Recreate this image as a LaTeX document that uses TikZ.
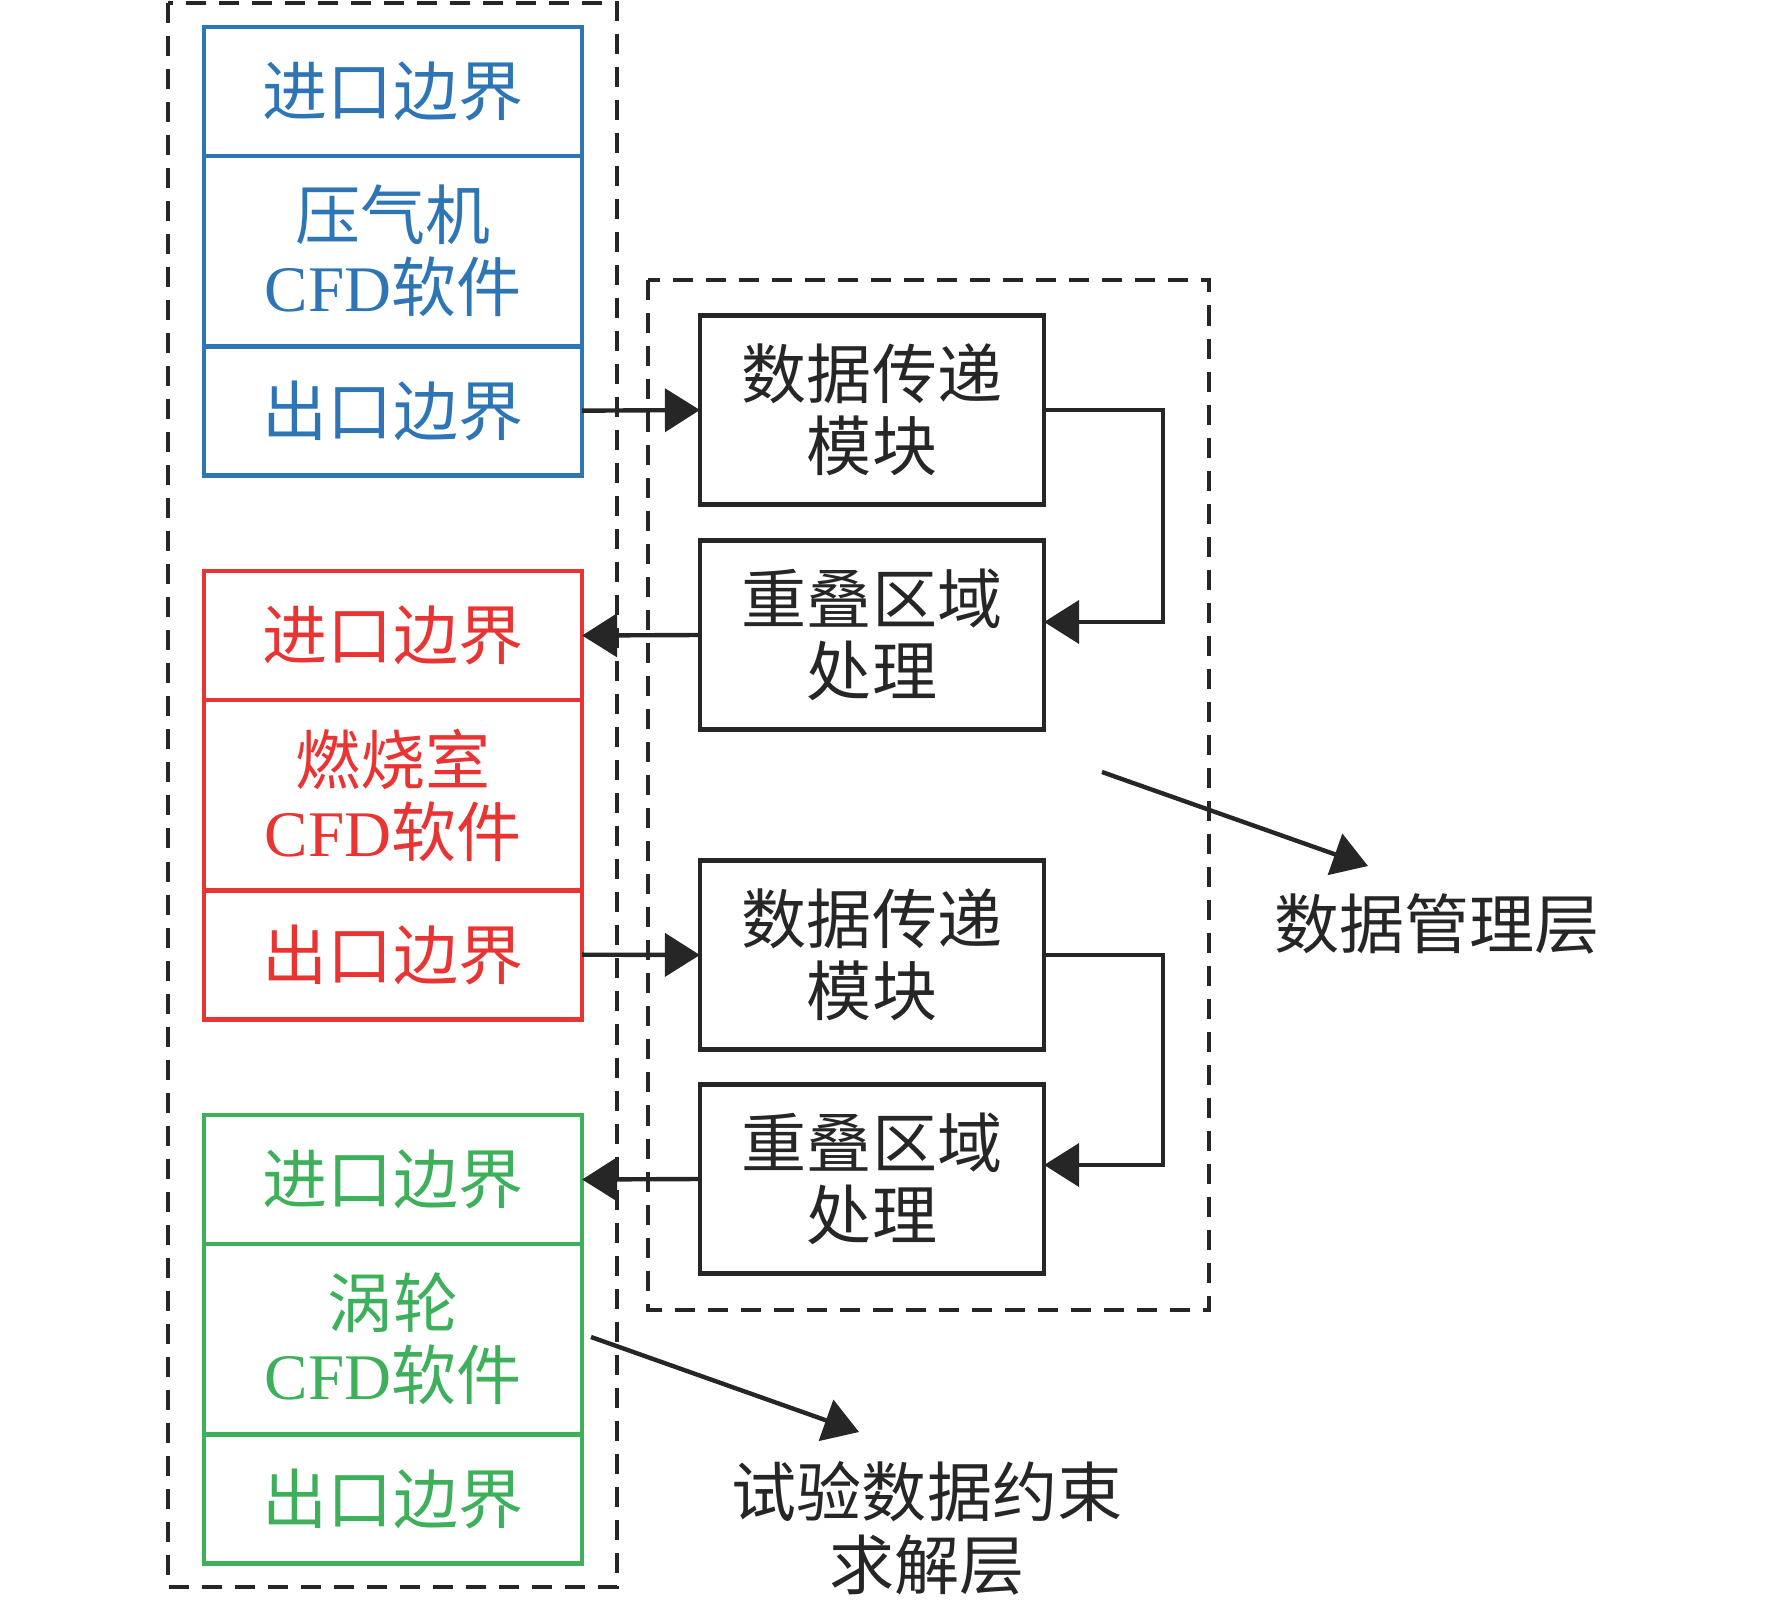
\documentclass[tikz,border=0pt]{standalone}
\usepackage{fontspec}
\setmainfont{Liberation Serif}
\newfontfamily\cjk{Noto Sans CJK SC}
\definecolor{cfdBlue}{RGB}{46,117,182}
\definecolor{cfdRed}{RGB}{233,52,52}
\definecolor{cfdGreen}{RGB}{62,176,92}
\definecolor{lineGray}{RGB}{38,38,38}
\usetikzlibrary{arrows.meta,positioning}

\begin{document}
\begin{tikzpicture}[
  x=0.01cm, y=-0.01cm,
  cell/.style={draw, line width=1.35pt, minimum width=3.78cm, inner sep=0pt,
               outer sep=0pt, align=center, font=\cjk\fontsize{18.5}{20.5}\selectfont},
  port/.style={cell, minimum height=1.29cm},
  solver/.style={cell, minimum height=1.90cm},
  mod/.style={draw=lineGray, text=lineGray, line width=1.35pt, minimum width=3.44cm,
              minimum height=1.89cm, inner sep=0pt, outer sep=0pt, align=center,
              font=\cjk\fontsize{18.5}{20.5}\selectfont},
  layer/.style={draw=lineGray, line width=1.3pt, dash pattern=on 0.2cm off 0.13cm},
  arr/.style={-{Triangle[length=3.5mm, width=4.3mm]}, line width=1.25pt, lineGray},
  tag/.style={text=lineGray, align=center, font=\cjk\fontsize{18.5}{20.7}\selectfont}
]
  \useasboundingbox (0,0) rectangle (1772,1606);

  % solver layer
  \node[port, draw=cfdBlue, text=cfdBlue] (blueIn) at (393,91.5) {进口边界};
  \node[solver, draw=cfdBlue, text=cfdBlue, below=0pt of blueIn] (blueCfd) {压气机\\\textrm{CFD}软件};
  \node[port, draw=cfdBlue, text=cfdBlue, below=0pt of blueCfd] (blueOut) {出口边界};

  \node[port, draw=cfdRed, text=cfdRed] (redIn) at (393,635.5) {进口边界};
  \node[solver, draw=cfdRed, text=cfdRed, below=0pt of redIn] (redCfd) {燃烧室\\\textrm{CFD}软件};
  \node[port, draw=cfdRed, text=cfdRed, below=0pt of redCfd] (redOut) {出口边界};

  \node[port, draw=cfdGreen, text=cfdGreen] (greenIn) at (393,1179.5) {进口边界};
  \node[solver, draw=cfdGreen, text=cfdGreen, below=0pt of greenIn] (greenCfd) {涡轮\\\textrm{CFD}软件};
  \node[port, draw=cfdGreen, text=cfdGreen, below=0pt of greenCfd] (greenOut) {出口边界};

  % data management layer
  \node[mod] (pass1)  at (872,410)  {数据传递\\模块};
  \node[mod] (merge1) at (872,635)  {重叠区域\\处理};
  \node[mod] (pass2)  at (872,955)  {数据传递\\模块};
  \node[mod] (merge2) at (872,1179) {重叠区域\\处理};

  \draw[layer] (168,3) rectangle (617,1587);
  \draw[layer] (648,280) rectangle (1209,1310);

  \draw[arr] (blueOut.east) -- (pass1.west);
  \draw[arr] (pass1.east) -- ++(1.19cm,0) |- ([yshift=0.13cm]merge1.east);
  \draw[arr] (merge1.west) -- (redIn.east);

  \draw[arr] (redOut.east) -- (pass2.west);
  \draw[arr] (pass2.east) -- ++(1.19cm,0) |- ([yshift=0.14cm]merge2.east);
  \draw[arr] (merge2.west) -- (greenIn.east);

  % layer labels
  \coordinate (mgmtTail) at (1102,772);
  \coordinate (mgmtTip)  at (1368,866);
  \draw[arr] (mgmtTail) -- (mgmtTip);
  \node[tag] (mgmtTag) at (1437,924) {数据管理层};

  \coordinate (solveTail) at (591,1337);
  \coordinate (solveTip)  at (859,1432);
  \draw[arr] (solveTail) -- (solveTip);
  \node[tag] (solveTag) at (927,1528) {试验数据约束\\求解层};
\end{tikzpicture}
\end{document}
